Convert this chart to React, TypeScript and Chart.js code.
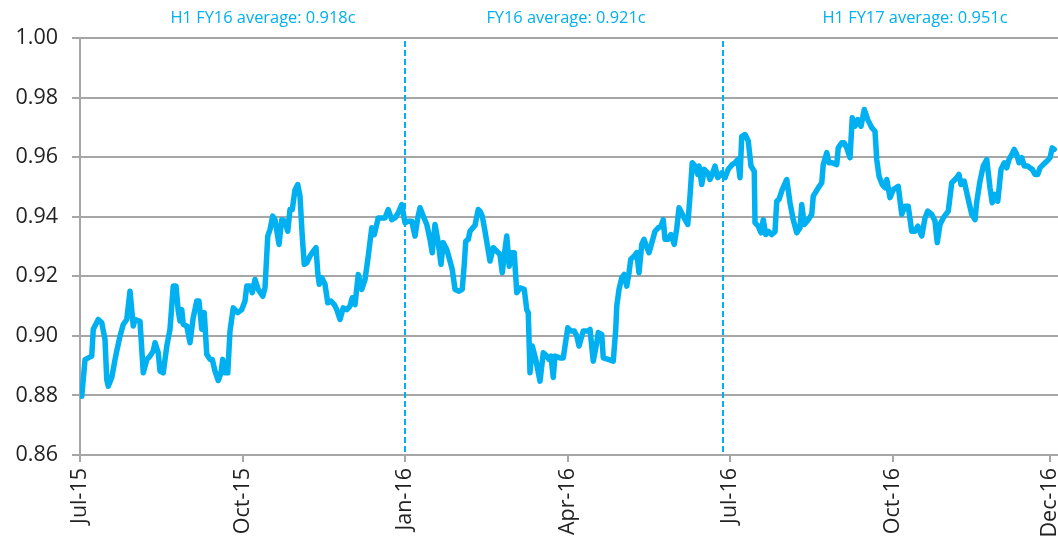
import React, { useEffect, useRef } from "react";
import { Chart, registerables } from "chart.js";
Chart.register(...registerables);

// Trading-day index since 1 Jul 2015
const tradingDay = [
  0.7, 2.0, 3.3, 4.7, 5.3, 7.3, 8.7, 10.0, 10.7, 11.3, 12.7, 14.0, 14.7, 16.0, 17.3, 18.7, 20.0, 21.3, 22.0, 24.0,
  25.3, 26.7, 28.0, 29.3, 30.0, 31.3, 32.0, 33.3, 34.7, 36.0, 37.3, 38.4, 39.3, 40.0, 40.7, 41.3, 42.7, 44.0, 45.3, 46.7,
  47.6, 48.7, 49.7, 50.7, 52.0, 52.9, 54.0, 55.3, 56.4, 57.1, 58.0, 59.1, 60.0, 61.3, 63.1, 64.7, 66.0, 66.7, 68.0, 68.9,
  70.0, 71.3, 73.1, 74.0, 75.1, 76.0, 77.1, 78.0, 79.6, 80.7, 82.0, 83.1, 84.0, 84.9, 86.0, 87.1, 88.0, 88.9, 89.7, 90.7,
  92.0, 93.3, 94.4, 95.1, 95.7, 96.7, 98.0, 99.1, 100.4, 101.7, 102.7, 104.0, 105.3, 106.7, 108.0, 108.9, 110.0, 111.3, 112.7, 114.0,
  115.3, 116.7, 117.7, 119.3, 120.7, 122.0, 123.3, 124.7, 126.0, 127.3, 128.7, 130.0, 131.3, 132.7, 134.0, 135.1, 136.0, 137.3, 138.7, 140.0,
  140.9, 142.0, 143.3, 144.4, 145.3, 146.7, 148.0, 148.9, 150.0, 151.6, 152.9, 153.7, 154.3, 155.3, 156.0, 158.0, 159.3, 160.0, 160.9, 162.0,
  164.0, 165.3, 166.7, 168.0, 168.9, 170.0, 170.7, 171.7, 172.7, 173.7, 174.7, 176.0, 177.7, 178.7, 179.3, 180.0, 180.9, 182.3, 184.0, 185.3,
  186.7, 187.6, 188.4, 189.3, 190.0, 192.0, 193.3, 195.1, 196.4, 197.7, 198.7, 199.6, 201.3, 203.3, 204.0, 205.3, 206.7, 207.3, 208.7, 209.3,
  211.3, 213.3, 214.3, 214.7, 215.6, 216.7, 217.7, 218.7, 219.6, 220.3, 221.7, 222.7, 223.6, 224.7, 225.6, 226.3, 227.6, 228.9, 230.0, 231.3,
  232.4, 233.3, 234.0, 235.1, 236.4, 237.7, 238.7, 239.6, 241.3, 243.1, 244.0, 244.9, 246.0, 247.1, 247.6, 248.7, 249.7, 251.1, 252.0, 252.9,
  254.0, 255.1, 256.7, 258.0, 259.3, 260.9, 262.0, 263.1, 264.0, 264.7, 266.0, 267.3, 268.4, 269.7, 270.0, 271.3, 272.4, 273.3, 274.3, 275.3,
  276.7, 278.0, 278.7, 279.6, 280.9, 282.7, 284.0, 285.3, 286.7, 288.0, 288.7, 289.7, 291.3, 292.7, 293.3, 295.3, 296.7, 297.3, 298.7, 299.6,
  300.9, 302.7, 303.3, 304.7, 305.7, 306.7, 308.0, 308.9, 310.0, 311.1, 312.4, 313.7, 315.1, 316.7, 318.0, 318.7, 319.6, 320.9, 322.0, 322.7,
  324.0, 325.3, 327.3, 328.7, 330.0, 331.3, 332.7, 334.0, 335.1, 336.7, 338.0, 339.1, 340.7, 342.0, 342.9, 344.0, 345.3, 347.3, 348.7, 350.7,
  351.6, 352.4, 353.7, 355.3, 356.7, 358.0, 358.7, 360.0, 361.3, 362.7, 364.0, 364.9, 366.0, 367.1, 368.4, 369.7, 370.7, 371.6, 372.7, 373.7,
  374.7, 375.6, 376.7, 377.7, 379.1, 380.0, 380.9, 382.0, 383.1, 384.0, 385.3, 386.7, 388.0, 388.9, 389.7,
];

// AUD/USD exchange rate
const audUsd = [
  0.8797, 0.892, 0.8926, 0.8932, 0.9022, 0.9055, 0.9044, 0.8988, 0.8853, 0.8831, 0.886, 0.892, 0.8949, 0.8999, 0.9038, 0.9055, 0.915, 0.9033, 0.9055, 0.9049,
  0.8876, 0.892, 0.8932, 0.8949, 0.8977, 0.8943, 0.8882, 0.8876, 0.8965, 0.9022, 0.9167, 0.9167, 0.9083, 0.905, 0.9088, 0.9038, 0.9033, 0.8977, 0.9061, 0.9117,
  0.9117, 0.9022, 0.9078, 0.8938, 0.8921, 0.8921, 0.8882, 0.885, 0.8876, 0.8921, 0.8876, 0.8876, 0.9016, 0.9094, 0.9078, 0.9088, 0.9117, 0.9167, 0.9167, 0.9145,
  0.9189, 0.9156, 0.9133, 0.9161, 0.9335, 0.9357, 0.9402, 0.939, 0.9307, 0.939, 0.9385, 0.9351, 0.9424, 0.9424, 0.949, 0.9508, 0.9469, 0.9335, 0.924, 0.9245,
  0.9268, 0.9284, 0.9296, 0.9212, 0.9173, 0.9195, 0.9173, 0.9111, 0.9117, 0.9105, 0.9088, 0.9055, 0.9094, 0.9088, 0.91, 0.9128, 0.9105, 0.9206, 0.9156, 0.9189,
  0.9268, 0.9363, 0.934, 0.9396, 0.9396, 0.9396, 0.9424, 0.939, 0.9396, 0.9413, 0.9441, 0.938, 0.9385, 0.9385, 0.9335, 0.9396, 0.943, 0.9402, 0.9374, 0.9324,
  0.9279, 0.9374, 0.9313, 0.924, 0.9313, 0.929, 0.9251, 0.9223, 0.9156, 0.915, 0.9156, 0.924, 0.9318, 0.9324, 0.9351, 0.9371, 0.9424, 0.9419, 0.9402, 0.9351,
  0.9251, 0.9296, 0.9284, 0.9273, 0.9212, 0.929, 0.9335, 0.9234, 0.9279, 0.9279, 0.9145, 0.9161, 0.9156, 0.9088, 0.9078, 0.8876, 0.8966, 0.8921, 0.8848, 0.8943,
  0.8932, 0.8921, 0.8932, 0.886, 0.8932, 0.8926, 0.8926, 0.9027, 0.9016, 0.9016, 0.9, 0.8966, 0.9016, 0.9016, 0.9022, 0.8915, 0.8977, 0.9011, 0.9005, 0.8926,
  0.8921, 0.8915, 0.9022, 0.91, 0.9156, 0.9195, 0.9206, 0.9167, 0.9212, 0.9257, 0.9268, 0.9279, 0.9212, 0.9307, 0.9324, 0.9307, 0.9279, 0.9318, 0.9351, 0.9363,
  0.9368, 0.939, 0.9324, 0.9324, 0.934, 0.9307, 0.936, 0.943, 0.9402, 0.9374, 0.9469, 0.9581, 0.957, 0.9542, 0.957, 0.9508, 0.9559, 0.9547, 0.9525, 0.9542,
  0.957, 0.9531, 0.9547, 0.9531, 0.9559, 0.9575, 0.9581, 0.9592, 0.9531, 0.967, 0.9676, 0.9654, 0.957, 0.9553, 0.938, 0.9368, 0.9346, 0.939, 0.934, 0.9351,
  0.934, 0.935, 0.9452, 0.9458, 0.9491, 0.9525, 0.9447, 0.939, 0.9346, 0.9363, 0.9441, 0.9374, 0.939, 0.9408, 0.9469, 0.9497, 0.9514, 0.9575, 0.9615, 0.9581,
  0.9581, 0.9575, 0.9631, 0.9648, 0.9648, 0.9631, 0.9598, 0.9732, 0.9704, 0.9726, 0.9704, 0.976, 0.9726, 0.9699, 0.9687, 0.9592, 0.9536, 0.9508, 0.9497, 0.9525,
  0.9464, 0.9491, 0.9502, 0.9408, 0.9435, 0.9435, 0.9351, 0.9351, 0.9368, 0.9335, 0.9396, 0.9419, 0.9408, 0.9385, 0.9313, 0.9374, 0.9396, 0.9419, 0.9514, 0.9531,
  0.9542, 0.9508, 0.9519, 0.9458, 0.9408, 0.939, 0.945, 0.952, 0.957, 0.9592, 0.9497, 0.9447, 0.9475, 0.9452, 0.9559, 0.9581, 0.9564, 0.9592, 0.9609, 0.9626,
  0.9609, 0.9581, 0.9598, 0.957, 0.957, 0.9564, 0.9559, 0.9542, 0.9542, 0.9564, 0.9575, 0.9586, 0.9598, 0.9631, 0.9626,
];

const tickDays = [0, 65, 130, 195, 260, 325, 388];
const tickLabels = ["Jul-15", "Oct-15", "Jan-16", "Apr-16", "Jul-16", "Oct-16", "Dec-16"];

const dividerDays = [130, 257.3];
const averageLabels = ["H1 FY16 average: 0.918c", "FY16 average: 0.921c", "H1 FY17 average: 0.951c"];
const averageLabelDays = [73.2, 194.4, 334];

export default function App() {
  const ref = useRef<HTMLCanvasElement>(null);

  useEffect(() => {
    const BLUE = "#00B0F0";
    const GRID = "#a6a6a6";
    const TEXT = "#222222";

    const overlay = {
      id: "overlay",
      beforeDatasetsDraw(chart: any) {
        const { ctx, chartArea, scales } = chart;
        const xs = scales.x;
        ctx.save();
        ctx.strokeStyle = BLUE;
        ctx.lineWidth = 2;
        ctx.setLineDash([6, 3]);
        dividerDays.forEach((d) => {
          const px = Math.round(xs.getPixelForValue(d));
          ctx.beginPath();
          ctx.moveTo(px, chartArea.top + 3);
          ctx.lineTo(px, chartArea.bottom);
          ctx.stroke();
        });
        ctx.restore();
      },
      afterDraw(chart: any) {
        const { ctx, scales } = chart;
        const xs = scales.x;
        ctx.save();
        ctx.fillStyle = BLUE;
        ctx.font = "16.4px 'Open Sans'";
        ctx.textAlign = "center";
        ctx.textBaseline = "middle";
        averageLabels.forEach((t, i) => {
          ctx.fillText(t, xs.getPixelForValue(averageLabelDays[i]), 18);
        });
        ctx.restore();
      },
    };

    const chart = new Chart(ref.current as HTMLCanvasElement, {
      type: "line",
      data: {
        datasets: [
          {
            data: tradingDay.map((d, i) => ({ x: d, y: audUsd[i] })),
            borderColor: BLUE,
            borderWidth: 5.5,
            pointRadius: 0,
            tension: 0,
            borderJoinStyle: "round",
            borderCapStyle: "round",
          } as any,
        ],
      },
      options: {
        responsive: false,
        animation: false,
        layout: { padding: { top: 38, right: 0, left: 0, bottom: 0 } },
        plugins: { legend: { display: false }, tooltip: { enabled: false } },
        scales: {
          x: {
            type: "linear",
            min: 0,
            max: 391.2,
            afterBuildTicks: (s: any) => {
              s.ticks = tickDays.map((v) => ({ value: v }));
            },
            afterFit: (s: any) => {
              s.height = 83;
              s.paddingLeft = 0;
              s.paddingRight = 0;
            },
            ticks: {
              autoSkip: false,
              minRotation: 90,
              maxRotation: 90,
              padding: 6,
              color: TEXT,
              font: { family: "'Open Sans'", size: 21.5 },
              callback: (v: any) => tickLabels[tickDays.indexOf(Number(v))] ?? "",
            },
            grid: { drawOnChartArea: false, tickLength: 7, color: GRID, lineWidth: 2 },
            border: { color: GRID, width: 2 },
          },
          y: {
            min: 0.86,
            max: 1.0,
            afterFit: (s: any) => {
              s.width = 80;
            },
            ticks: {
              stepSize: 0.02,
              padding: 14,
              color: TEXT,
              font: { family: "'Open Sans'", size: 21.5 },
              callback: (v: any) => Number(v).toFixed(2),
            },
            grid: { color: GRID, lineWidth: 2, tickLength: 8 },
            border: { color: GRID, width: 2 },
          },
        },
      } as any,
      plugins: [overlay],
    });
    return () => chart.destroy();
  }, []);

  return (
    <div style={{ position: "fixed", left: 0, top: 0, width: 1058, height: 538, background: "#fff" }}>
      <canvas ref={ref} width={1058} height={538} style={{ display: "block" }} />
    </div>
  );
}
